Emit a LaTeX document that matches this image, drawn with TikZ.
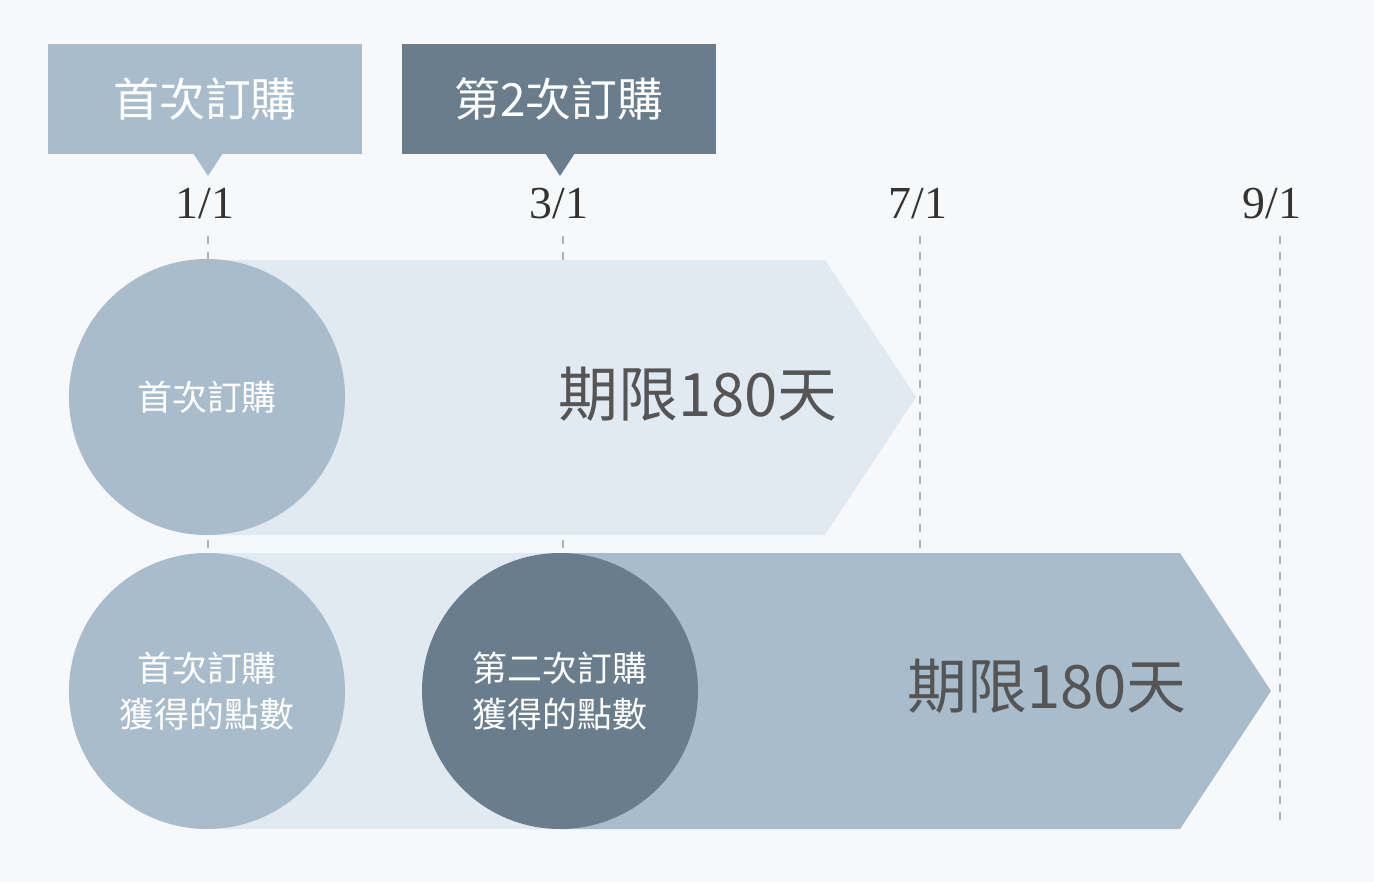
\documentclass[tikz,border=0pt]{standalone}
\usepackage{fontspec}
\setmainfont{Noto Sans CJK TC}
\newfontfamily\datefont{Liberation Serif}
\usetikzlibrary{positioning,calc,backgrounds}
\definecolor{pagebg}{HTML}{F7F8FA}
\definecolor{lightband}{HTML}{E1E9F1}
\definecolor{midblue}{HTML}{A9BCCB}
\definecolor{darkblue}{HTML}{6A7D8C}
\definecolor{labelgray}{HTML}{555555}
\tikzstyle{tagbox}=[
  minimum width=314bp,minimum height=110bp,inner sep=0pt,text=white,
  font=\fontsize{46}{50}\selectfont
]
\tikzstyle{ordercircle}=[
  circle,minimum size=276bp,inner sep=0pt,text=white,align=center,
  font=\fontsize{35}{46}\selectfont
]
\tikzstyle{datelabel}=[
  text=black!80,font=\datefont\fontsize{46}{50}\selectfont
]
\tikzstyle{periodlabel}=[
  text=labelgray,font=\fontsize{60}{64}\selectfont
]
\tikzstyle{guide}=[
  draw=black!30,line width=2bp,dash pattern=on 8bp off 8bp
]
\begin{document}
\begin{tikzpicture}[x=1bp,y=-1bp]
    \fill[pagebg] (0,0) rectangle (1374,882);
    \useasboundingbox (0,0) rectangle (1374,882);

    % order tags
    \node (tagA) at (205,99) [tagbox,fill=midblue] {首次訂購};
    \fill[midblue] (193,153) -- (223,153) -- (208,176) -- cycle;
    \node (tagB) at (559,99) [tagbox,fill=darkblue] {第2次訂購};
    \fill[darkblue] (545,153) -- (575,153) -- (560,176) -- cycle;

    % dates
    \node (d1) at (205,204) [datelabel] {1/1};
    \node (d3) at (559,204) [datelabel] {3/1};
    \node (d7) at (918,204) [datelabel] {7/1};
    \node (d9) at (1272,204) [datelabel] {9/1};

    % guides
    \draw[guide] (208,236) -- (208,262);
    \draw[guide] (563,236) -- (563,262);
    \draw[guide] (208,540) -- (208,556);
    \draw[guide] (563,540) -- (563,556);
    \draw[guide] (920,236) -- (920,556);
    \draw[guide] (1280,236) -- (1280,820);

    % first period
    \fill[lightband] (208,260) -- (825,260) -- (916,397) -- (825,535) -- (208,535) -- cycle;
    \node (first) at (207,397) [ordercircle,fill=midblue] {首次訂購};
    \node (periodA) at (698,394) [periodlabel] {期限180天};

    % second period
    \fill[lightband] (208,553) rectangle (562,829);
    \fill[midblue] (560,553) -- (1180,553) -- (1271,691) -- (1180,829) -- (560,829) -- cycle;
    \node (firstpts) at (207,691) [ordercircle,fill=midblue] {首次訂購\\獲得的點數};
    \node (secondpts) at (560,691) [ordercircle,fill=darkblue] {第二次訂購\\獲得的點數};
    \node (periodB) at (1047,686) [periodlabel] {期限180天};

  \end{tikzpicture}
\end{document}
